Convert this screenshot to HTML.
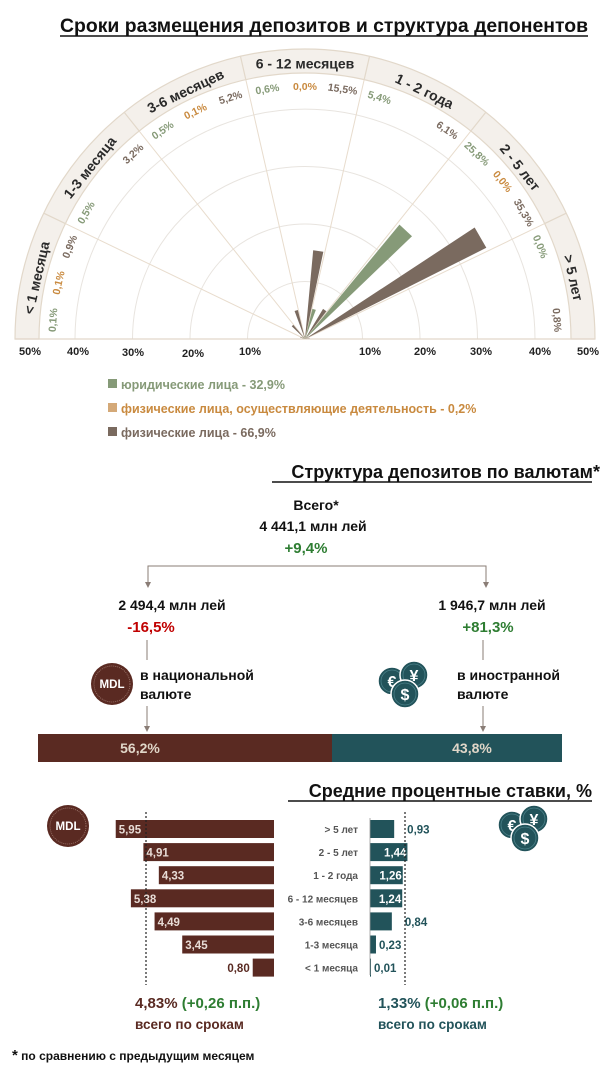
<!DOCTYPE html>
<html><head><meta charset="utf-8">
<style>
html,body{margin:0;padding:0;background:#fff;}
svg{display:block;font-family:"Liberation Sans",sans-serif;font-weight:bold;}
</style></head>
<body>
<svg id="s" width="610" height="1070" viewBox="0 0 610 1070" xmlns="http://www.w3.org/2000/svg">
<text x="588" y="32" font-size="19" text-anchor="end" fill="#111" textLength="528" lengthAdjust="spacingAndGlyphs">Сроки размещения депозитов и структура депонентов</text>
<line x1="60" y1="36" x2="588" y2="36" stroke="#111" stroke-width="1.5"/>
<g id="polar"></g>
<g font-size="11" fill="#222" text-anchor="middle">
<text x="30" y="355">50%</text><text x="78" y="355">40%</text><text x="133" y="356">30%</text>
<text x="193" y="357">20%</text><text x="250" y="355">10%</text><text x="370" y="355">10%</text>
<text x="425" y="355">20%</text><text x="481" y="355">30%</text><text x="540" y="355">40%</text><text x="588" y="355">50%</text>
</g>
<g font-size="12.5">
<rect x="108" y="379" width="9" height="9" fill="#869a78"/><text x="121" y="389" fill="#869a78">юридические лица - 32,9%</text>
<rect x="108" y="403" width="9" height="9" fill="#d4a978"/><text x="121" y="413" fill="#c98a3f">физические лица, осуществляющие деятельность  - 0,2%</text>
<rect x="108" y="427" width="9" height="9" fill="#7a6a5f"/><text x="121" y="437" fill="#7a6a5f">физические лица - 66,9%</text>
</g>
<text x="600" y="478" font-size="18" text-anchor="end" fill="#111">Структура депозитов по валютам*</text>
<line x1="272" y1="482" x2="592" y2="482" stroke="#111" stroke-width="1.5"/>
<g font-size="14" text-anchor="middle" fill="#111">
<text x="316" y="510">Всего*</text>
<text x="313" y="531">4 441,1 млн лей</text>
<text x="306" y="553" fill="#2e7d32" font-size="15">+9,4%</text>
<text x="172" y="610">2 494,4 млн лей</text>
<text x="151" y="632" fill="#c00000" font-size="15">-16,5%</text>
<text x="492" y="610">1 946,7 млн лей</text>
<text x="488" y="632" fill="#2e7d32" font-size="15">+81,3%</text>
</g>
<g stroke="#8a7d76" stroke-width="1" fill="none">
<polyline points="148,584 148,566 486,566 486,584"/>
<line x1="147" y1="640" x2="147" y2="660"/>
<line x1="483" y1="640" x2="483" y2="660"/>
<line x1="147" y1="706" x2="147" y2="728"/>
<line x1="483" y1="706" x2="483" y2="728"/>
</g>
<g fill="#8a7d76">
<polygon points="145,582 151,582 148,588"/><polygon points="483,582 489,582 486,588"/>
<polygon points="144,726 150,726 147,732"/><polygon points="480,726 486,726 483,732"/>
</g>
<g id="mdl1"></g>
<g font-size="14" fill="#111">
<text x="140" y="680">в национальной</text><text x="140" y="699">валюте</text>
<text x="457" y="680">в иностранной</text><text x="457" y="699">валюте</text>
</g>
<rect x="38" y="734" width="294" height="28" fill="#5a2a22"/>
<rect x="332" y="734" width="230" height="28" fill="#22535a"/>
<text x="140" y="753" font-size="14" fill="#e0d6c8" text-anchor="middle">56,2%</text>
<text x="472" y="753" font-size="14" fill="#e0d6c8" text-anchor="middle">43,8%</text>
<text x="592" y="797" font-size="18" text-anchor="end" fill="#111">Средние процентные ставки, %</text>
<line x1="288" y1="801" x2="592" y2="801" stroke="#111" stroke-width="1.5"/>
<g id="rates"></g>
<line x1="146" y1="812" x2="146" y2="985" stroke="#222" stroke-width="1.2" stroke-dasharray="2,2"/>
<line x1="405" y1="812" x2="405" y2="985" stroke="#222" stroke-width="1.2" stroke-dasharray="2,2"/>
<line x1="370" y1="818" x2="370" y2="975" stroke="#9a9a9a" stroke-width="0.8"/>
<g font-size="15">
<text x="135" y="1008" fill="#5a2a22">4,83%<tspan fill="#2e7d32"> (+0,26 п.п.)</tspan></text>
<text x="135" y="1029" font-size="13.5" fill="#5a2a22">всего по срокам</text>
<text x="378" y="1008" fill="#22535a">1,33%<tspan fill="#2e7d32"> (+0,06 п.п.)</tspan></text>
<text x="378" y="1029" font-size="13.5" fill="#22535a">всего по срокам</text>
</g>
<text x="12" y="1060" font-size="12" fill="#111"><tspan font-size="15">*</tspan> по сравнению с предыдущим месяцем</text>
</svg>
<script>
(function(){
var NS="http://www.w3.org/2000/svg";
function el(p,t,a,txt){var e=document.createElementNS(NS,t);for(var k in a)e.setAttribute(k,a[k]);if(txt!==undefined)e.textContent=txt;p.appendChild(e);return e;}
var g=document.getElementById('polar');
var cx=305,cy=339,R1=266,R2=290,S=5.75;
function P(r,a){var t=a*Math.PI/180;return [cx+r*Math.cos(t),cy-r*Math.sin(t)];}
function arcPath(r1,r2,a1,a2){var p1=P(r2,a1),p2=P(r2,a2),p3=P(r1,a2),p4=P(r1,a1);
return "M"+p1+" A"+r2+","+r2+" 0 0 1 "+p2+" L"+p3+" A"+r1+","+r1+" 0 0 0 "+p4+" Z";}
el(g,'path',{d:arcPath(R1,R2,180,0),fill:'#f4f0eb',stroke:'#e2d8ca','stroke-width':1.2});
[10,20,30,40].forEach(function(v){var r=v*S;el(g,'path',{d:"M"+(cx-r)+","+cy+" A"+r+","+r+" 0 0 1 "+(cx+r)+","+cy,fill:'none',stroke:'#e8e4df','stroke-width':1});});
el(g,'line',{x1:cx-R2,y1:cy,x2:cx+R2,y2:cy,stroke:'#e2d8ca','stroke-width':1.2});
var sw=180/7;
for(var k=1;k<7;k++){var a=180-k*sw;var p=P(R1,a),q=P(R2,a);
el(g,'line',{x1:cx,y1:cy,x2:p[0],y2:p[1],stroke:'#e8dccd','stroke-width':1});
el(g,'line',{x1:p[0],y1:p[1],x2:q[0],y2:q[1],stroke:'#e2d8ca','stroke-width':1.2});}
var names=['< 1 месяца','1-3 месяца','3-6 месяцев','6 - 12 месяцев','1 - 2 года','2 - 5 лет','> 5 лет'];
var data=[[0.1,0.1,0.9],[0.5,0.1,3.2],[0.5,0.1,5.2],[0.6,0.0,15.5],[5.4,0.0,6.1],[25.8,0.0,35.3],[0.0,0.0,0.8]];
var show=[[1,1,1],[1,0,1],[1,1,1],[1,1,1],[1,0,1],[1,1,1],[1,0,1]];
var cols=['#869a78','#c98a3f','#7a6a5f'];
var fills=['#869a78','#d4a978','#7a6a5f'];
for(var k=0;k<7;k++){
 var A0=180-k*sw, ac=A0-sw/2;
 var p=P(274,ac);
 el(g,'text',{x:p[0],y:p[1],'font-size':14,fill:'#2a2a2a','text-anchor':'middle','dominant-baseline':'middle',transform:'rotate('+(90-ac)+' '+p[0]+' '+p[1]+')'},names[k]);
 for(var j=0;j<3;j++){
  var a=A0-(j+0.5)*sw/3, v=data[k][j];
  if(v>0){var r=v*S;var b1=P(r,a+3.3),b2=P(r,a-3.3);
   el(g,'path',{d:"M"+cx+","+cy+" L"+b1+" L"+b2+" Z",fill:fills[j]});}
  if(show[k][j]){var q=P(252,a);
   el(g,'text',{x:q[0],y:q[1],'font-size':10.5,fill:cols[j],'text-anchor':'middle','dominant-baseline':'middle',transform:'rotate('+(90-a)+' '+q[0]+' '+q[1]+')'},(''+v.toFixed(1)).replace('.',',')+'%');}
 }
}
function mdl(p,x,y,r){el(p,'circle',{cx:x,cy:y,r:r,fill:'#5a2a22'});el(p,'circle',{cx:x,cy:y,r:r-3,fill:'none',stroke:'#a07a70','stroke-width':0.8,'stroke-dasharray':'1,1'});
 el(p,'text',{x:x,y:y+4,'font-size':r*0.55,fill:'#fff','text-anchor':'middle'},'MDL');}
function coins(p,x,y){[[x-13,y-3,'€'],[x+9,y-9,'¥'],[x,y+10,'$']].forEach(function(c){
 el(p,'circle',{cx:c[0],cy:c[1],r:14,fill:'#22535a',stroke:'#fff','stroke-width':1.5});
 el(p,'circle',{cx:c[0],cy:c[1],r:11,fill:'none',stroke:'#4a8088','stroke-width':0.8});
 el(p,'text',{x:c[0],y:c[1]+6,'font-size':16,fill:'#fff','text-anchor':'middle'},c[2]);});}
var m=document.getElementById('mdl1');
mdl(m,112,684,21);coins(m,405,684);
var rg=document.getElementById('rates');
mdl(rg,68,826,21);coins(rg,525,828);
var cats=['> 5 лет','2 - 5 лет','1 - 2 года','6 - 12 месяцев','3-6 месяцев','1-3 месяца','< 1 месяца'];
var L=[5.95,4.91,4.33,5.38,4.49,3.45,0.80],Rv=[0.93,1.44,1.26,1.24,0.84,0.23,0.01];
for(var i=0;i<7;i++){
 var yc=829+i*23.1, h=18;
 var w=L[i]*26.6, x0=274-w;
 el(rg,'rect',{x:x0,y:yc-h/2,width:w,height:h,fill:'#5a2a22'});
 var ls=L[i].toFixed(2).replace('.',',');
 if(L[i]>1) el(rg,'text',{x:x0+3,y:yc+4.5,'font-size':11.5,fill:'#e8dcd6'},ls);
 else el(rg,'text',{x:x0-3,y:yc+4.5,'font-size':11.5,fill:'#5a2a22','text-anchor':'end'},ls);
 el(rg,'text',{x:358,y:yc+4,'font-size':10,fill:'#555','text-anchor':'end'},cats[i]);
 var rw=Math.max(Rv[i]*26,1);
 el(rg,'rect',{x:370,y:yc-h/2,width:rw,height:h,fill:'#22535a'});
 var rs=Rv[i].toFixed(2).replace('.',',');
 if(Rv[i]>1) el(rg,'text',{x:370+rw-1,y:yc+4.5,'font-size':11.5,fill:'#fff','text-anchor':'end'},rs);
 else el(rg,'text',{x:370+rw+(Rv[i]>0.5?13:3),y:yc+4.5,'font-size':11.5,fill:'#22535a'},rs);
}
})();
</script>
</body></html>
